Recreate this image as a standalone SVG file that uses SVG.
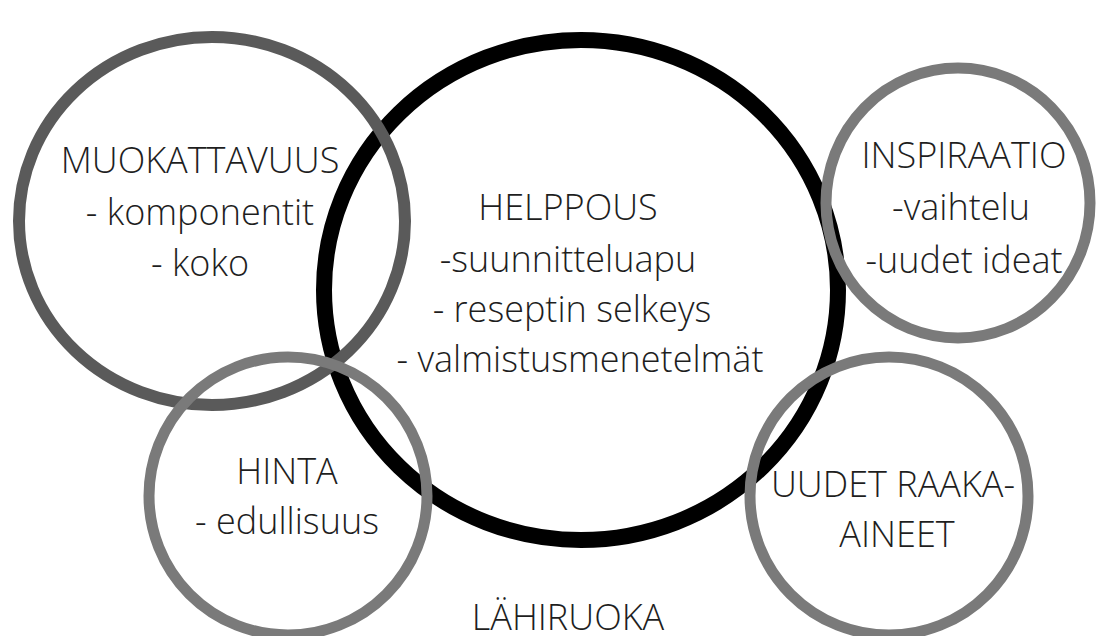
<svg xmlns="http://www.w3.org/2000/svg" width="1098" height="636" viewBox="0 0 1098 636">
  <style>
    .ring { fill: none; }
    .core { stroke: #000; stroke-width: 16; }
    .dark { stroke: #5a5a5a; stroke-width: 12; }
    .mid { stroke: #7a7a7a; stroke-width: 11; }
    text { font-family: "Open Sans", "Liberation Sans", sans-serif; font-weight: 300; font-size: 36px; fill: #1e1e1e; text-anchor: middle; }
  </style>
  <rect width="1098" height="636" fill="#fff"/>

  <g id="helppous">
    <ellipse class="ring core" cx="581" cy="290" rx="257" ry="250"/>
    <text x="568" y="220">HELPPOUS</text>
    <text x="568" y="272">-suunnitteluapu</text>
    <text x="572" y="322">- reseptin selkeys</text>
    <text x="580" y="372">- valmistusmenetelmät</text>
  </g>

  <g id="muokattavuus">
    <ellipse class="ring dark" cx="212" cy="221" rx="193" ry="184"/>
    <text x="200" y="173">MUOKATTAVUUS</text>
    <text x="200" y="225">- komponentit</text>
    <text x="200" y="276">- koko</text>
  </g>

  <g id="inspiraatio">
    <ellipse class="ring mid" cx="958" cy="203" rx="132" ry="135"/>
    <text x="964" y="168">INSPIRAATIO</text>
    <text x="961" y="220">-vaihtelu</text>
    <text x="964" y="273">-uudet ideat</text>
  </g>

  <g id="hinta">
    <circle class="ring mid" cx="288" cy="496" r="139"/>
    <text x="287" y="484">HINTA</text>
    <text x="287" y="534">- edullisuus</text>
  </g>

  <g id="raaka-aineet">
    <circle class="ring mid" cx="889" cy="496" r="139"/>
    <text x="893" y="497">UUDET RAAKA-</text>
    <text x="897" y="547">AINEET</text>
  </g>

  <g id="lahiruoka">
    <text x="568" y="630">LÄHIRUOKA</text>
  </g>

  <g id="connectors"/>
</svg>
